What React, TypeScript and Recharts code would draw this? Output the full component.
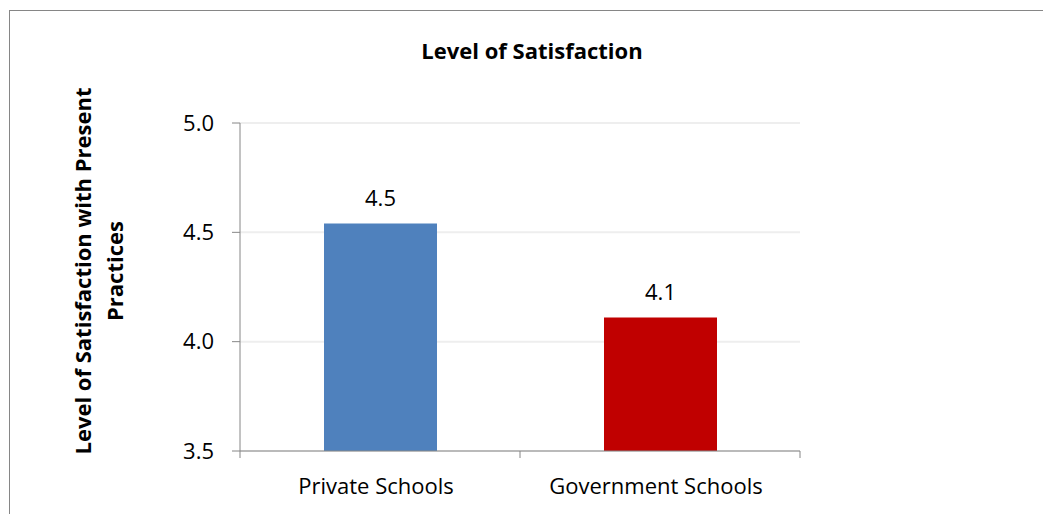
import React from 'react';
import { BarChart, Bar, XAxis, YAxis, CartesianGrid, LabelList, Cell } from 'recharts';

const categories = ['Private Schools', 'Government Schools'];
const satisfaction = [4.54, 4.11];
const barColors = ['#4F81BD', '#C00000'];
const yTicks = [3.5, 4.0, 4.5, 5.0];
const titleText = 'Level of Satisfaction';
const yLabelLines = ['Level of Satisfaction with Present', 'Practices'];

const data = categories.map((name, i) => ({ name, value: satisfaction[i] }));

const FONT = '"Open Sans", Lato, sans-serif';
const AXIS = '#868686';
const X_TICK_SIZE = 7;
const X_TICK_MARGIN = 20;

const XTick = (props: any) => {
  const { x, y, payload, index, visibleTicksCount } = props;
  const off = payload && typeof payload.offset === 'number' ? payload.offset : 0;
  const axisY = y - X_TICK_MARGIN - X_TICK_SIZE;
  const isLast = index === (visibleTicksCount ?? categories.length) - 1;
  return (
    <g>
      {off > 0 && (
        <line x1={x - off} x2={x - off} y1={axisY} y2={axisY + X_TICK_SIZE} stroke={AXIS} strokeWidth={1} />
      )}
      {off > 0 && isLast && (
        <line x1={x + off} x2={x + off} y1={axisY} y2={axisY + X_TICK_SIZE} stroke={AXIS} strokeWidth={1} />
      )}
      <text x={x - 4} y={y} dy={16} textAnchor="middle" fill="#000" fontSize={22} fontFamily={FONT}>
        {payload.value}
      </text>
    </g>
  );
};

const YLabel = (props: any) => {
  const vb = props.viewBox || { x: 160, y: 123, width: 80, height: 328 };
  const cy = vb.y + vb.height / 2 - 16;
  const x1 = vb.x - 78;
  const x2 = vb.x - 46;
  return (
    <g>
      <text
        x={x1}
        y={cy}
        transform={`rotate(-90, ${x1}, ${cy})`}
        textAnchor="middle"
        dominantBaseline="central"
        fontWeight="bold"
        fontSize={22}
        fontFamily={FONT}
        fill="#000"
      >
        {yLabelLines[0]}
      </text>
      <text
        x={x2}
        y={cy}
        transform={`rotate(-90, ${x2}, ${cy})`}
        textAnchor="middle"
        dominantBaseline="central"
        fontWeight="bold"
        fontSize={22}
        fontFamily={FONT}
        fill="#000"
      >
        {yLabelLines[1]}
      </text>
    </g>
  );
};

export default function App() {
  return (
    <div style={{ position: 'relative', width: 1043, height: 514, background: '#fff', overflow: 'hidden' }}>
      <style>{'html,body{margin:0;padding:0;overflow:hidden;background:#fff}'}</style>
      <div
        style={{
          position: 'absolute',
          left: 9,
          top: 10,
          width: 1100,
          height: 600,
          borderTop: `1px solid ${AXIS}`,
          borderLeft: `1px solid ${AXIS}`,
          boxSizing: 'border-box',
        }}
      />
      <div
        style={{
          position: 'absolute',
          left: 332,
          width: 400,
          top: 35,
          textAlign: 'center',
          fontFamily: FONT,
          fontWeight: 'bold',
          fontSize: 22,
          lineHeight: '30px',
          color: '#000',
        }}
      >
        {titleText}
      </div>
      <div style={{ position: 'absolute', left: 0, top: 0 }}>
        <BarChart
          width={1043}
          height={514}
          data={data}
          margin={{ top: 123, right: 243, bottom: 29, left: 160 }}
          barSize={113}
        >
          <CartesianGrid vertical={false} horizontal stroke="#eeeeee" strokeWidth={2} />
          <XAxis
            dataKey="name"
            axisLine={{ stroke: AXIS, strokeWidth: 1 }}
            tickLine={false}
            tickSize={X_TICK_SIZE}
            tickMargin={X_TICK_MARGIN}
            height={34}
            interval={0}
            tick={<XTick />}
          />
          <YAxis
            domain={[3.5, 5]}
            ticks={yTicks}
            interval={0}
            width={80}
            axisLine={{ stroke: AXIS, strokeWidth: 1 }}
            tickLine={{ stroke: AXIS, strokeWidth: 1 }}
            tickSize={8}
            tickMargin={18}
            tickFormatter={(v: number) => v.toFixed(1)}
            tick={{ fill: '#000', fontSize: 22, fontFamily: FONT }}
            label={<YLabel />}
          />
          <Bar dataKey="value" isAnimationActive={false}>
            {data.map((d, i) => (
              <Cell key={d.name} fill={barColors[i]} />
            ))}
            <LabelList
              dataKey="value"
              position="top"
              offset={18}
              formatter={(v: any) => Number(v).toFixed(1)}
              style={{ fill: '#000', fontSize: 22, fontFamily: FONT }}
            />
          </Bar>
        </BarChart>
      </div>
    </div>
  );
}
